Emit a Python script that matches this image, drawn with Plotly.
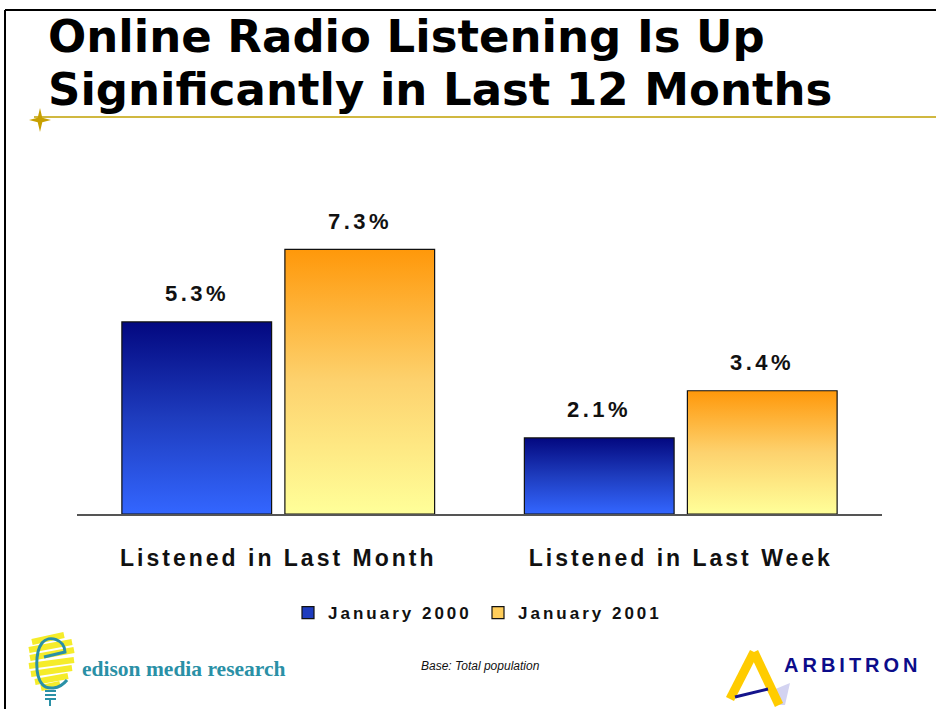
import plotly.graph_objects as go

# ---------------- data ----------------
categories = ["Listened in Last Month", "Listened in Last Week"]
series_names = ["January 2000", "January 2001"]
jan2000 = [5.3, 2.1]
jan2001 = [7.3, 3.4]
value_labels_2000 = ["5.3%", "2.1%"]
value_labels_2001 = ["7.3%", "3.4%"]

# ---------------- style ----------------
W, H = 936, 709
ML, MR, MT, MB = 77, 54, 224, 195
PW, PH = W - ML - MR, H - MT - MB
BAR_W = 0.372
OFF = 0.2025
BLUE_SCALE = [[0, "rgb(51,102,255)"], [0.5, "rgb(30,60,190)"], [1, "rgb(3,8,128)"]]
ORANGE_SCALE = [[0, "rgb(255,255,153)"], [0.5, "rgb(253,210,110)"], [1, "rgb(255,152,10)"]]
LABEL_FONT = "Liberation Sans, Arial, sans-serif"


def X(px):
    return (px - ML) / PW


def Y(py):
    return (MT + PH - py) / PH


def path(points, close=True):
    s = "M " + " L ".join(f"{X(a):.5f},{Y(b):.5f}" for a, b in points)
    return s + (" Z" if close else "")


fig = go.Figure()

series = [
    (series_names[0], jan2000, value_labels_2000, -OFF, BLUE_SCALE, "rgb(30,60,190)"),
    (series_names[1], jan2001, value_labels_2001, OFF, ORANGE_SCALE, "rgb(255,205,90)"),
]

annotations = []
for name, vals, labs, off, scale, mid in series:
    for i, v in enumerate(vals):
        c = i + off
        x0, x1 = c - BAR_W / 2, c + BAR_W / 2
        fig.add_trace(go.Scatter(
            x=[x0, x0, x1, x1, x0], y=[0, v, v, 0, 0],
            mode="lines", fill="toself",
            fillgradient=dict(type="vertical", colorscale=scale, start=0, stop=v),
            line=dict(color="#111111", width=1.2),
            showlegend=False, hoverinfo="skip", name=name,
        ))
        annotations.append(dict(
            x=c, y=v, xref="x", yref="y", text=labs[i], showarrow=False,
            yanchor="middle", yshift=28,
            font=dict(family=LABEL_FONT, size=22, color="#111111", weight="bold"),
        ))
    # legend entry
    fig.add_trace(go.Bar(
        x=[None], y=[None], name=name,
        marker=dict(color=mid, line=dict(color="#111111", width=1.2)),
        showlegend=True,
    ))

# title and footer texts
annotations += [
    dict(x=X(46), y=Y(37), xref="paper", yref="paper", xanchor="left", yanchor="middle",
         text="Online Radio Listening Is Up", showarrow=False,
         font=dict(family="DejaVu Sans", size=45, color="black", weight="bold")),
    dict(x=X(46), y=Y(89), xref="paper", yref="paper", xanchor="left", yanchor="middle",
         text="Significantly in Last 12 Months", showarrow=False,
         font=dict(family="DejaVu Sans", size=45, color="black", weight="bold")),
    dict(x=X(480), y=Y(666), xref="paper", yref="paper", xanchor="center", yanchor="middle",
         text="<i>Base: Total population</i>", showarrow=False,
         font=dict(family=LABEL_FONT, size=12, color="#111111")),
    dict(x=X(80), y=Y(669), xref="paper", yref="paper", xanchor="left", yanchor="middle",
         text="edison media research", showarrow=False,
         font=dict(family="Liberation Serif, Times New Roman, serif", size=21.5,
                   color="#2a90a6", weight="bold")),
    dict(x=X(853), y=Y(665), xref="paper", yref="paper", xanchor="center", yanchor="middle",
         text="ARBITRON", showarrow=False,
         font=dict(family=LABEL_FONT, size=20, color="#0c0c8a", weight="bold")),
]

shapes = [
    # slide border
    dict(type="line", xref="paper", yref="paper", x0=X(5), y0=Y(10), x1=X(5), y1=Y(720),
         line=dict(color="black", width=2)),
    dict(type="line", xref="paper", yref="paper", x0=X(5), y0=Y(10), x1=X(950), y1=Y(10),
         line=dict(color="black", width=2)),
    # gold rule under title
    dict(type="line", xref="paper", yref="paper", x0=X(34), y0=Y(117), x1=X(950), y1=Y(117),
         line=dict(color="#c0a000", width=1.5)),
    # star bullet
    dict(type="path", xref="paper", yref="paper",
         path=path([(40, 108), (42.3, 117.7), (51, 120), (42.3, 122.3), (40, 132),
                    (37.7, 122.3), (29, 120), (37.7, 117.7)]),
         fillcolor="#c8a000", line=dict(width=0)),
]
# edison bulb: yellow scribble strokes
for (a, b, c, d) in [(32, 642, 64, 635), (29, 650, 72, 642), (30, 658, 74, 650),
                     (29, 666, 74, 660), (31, 674, 72, 668), (35, 682, 68, 676),
                     (41, 688, 60, 684)]:
    shapes.append(dict(type="line", xref="paper", yref="paper", x0=X(a), y0=Y(b),
                       x1=X(c), y1=Y(d), line=dict(color="#f5ec2a", width=6)))
shapes.append(dict(
    type="path", xref="paper", yref="paper",
    path=(f"M {X(44):.5f},{Y(657):.5f} L {X(65):.5f},{Y(652):.5f} "
          f"C {X(65):.5f},{Y(640):.5f} {X(49):.5f},{Y(634):.5f} {X(42):.5f},{Y(643):.5f} "
          f"C {X(35):.5f},{Y(652):.5f} {X(35):.5f},{Y(676):.5f} {X(42):.5f},{Y(684):.5f} "
          f"C {X(47):.5f},{Y(690):.5f} {X(59):.5f},{Y(690):.5f} {X(67):.5f},{Y(680):.5f}"),
    line=dict(color="#2a90a6", width=3)))
for yy in (691, 695, 699):
    shapes.append(dict(type="line", xref="paper", yref="paper", x0=X(45), y0=Y(yy),
                       x1=X(56), y1=Y(yy), line=dict(color="#2a90a6", width=2)))
shapes.append(dict(type="line", xref="paper", yref="paper", x0=X(50), y0=Y(700),
                   x1=X(50), y1=Y(706), line=dict(color="#2a90a6", width=2)))
# arbitron mark
shapes += [
    dict(type="path", xref="paper", yref="paper",
         path=path([(773, 690), (790, 683), (785, 705), (775, 705)]),
         fillcolor="rgba(110,110,210,0.3)", line=dict(width=0)),
    dict(type="line", xref="paper", yref="paper", x0=X(730), y0=Y(699), x1=X(754), y1=Y(652),
         line=dict(color="#ffcc00", width=9)),
    dict(type="line", xref="paper", yref="paper", x0=X(754), y0=Y(652), x1=X(779), y1=Y(705),
         line=dict(color="#ffcc00", width=9)),
    dict(type="line", xref="paper", yref="paper", x0=X(735), y0=Y(697), x1=X(768), y1=Y(689),
         line=dict(color="#14148c", width=3)),
]

fig.update_layout(
    width=W, height=H, autosize=False,
    margin=dict(l=ML, r=MR, t=MT, b=MB),
    paper_bgcolor="white", plot_bgcolor="white",
    xaxis=dict(range=[-0.5, 1.5], tickvals=[0, 1], ticktext=categories,
               showgrid=False, zeroline=False, showline=True, linecolor="#555555",
               linewidth=2, ticks="", ticklabelstandoff=22, fixedrange=True,
               tickfont=dict(family=LABEL_FONT, size=23, color="#111111", weight="bold")),
    yaxis=dict(range=[0, 8], showgrid=False, zeroline=False, showline=False,
               showticklabels=False, ticks="", fixedrange=True),
    showlegend=True,
    legend=dict(orientation="h", x=X(478), y=Y(613), xanchor="center", yanchor="middle",
                entrywidth=145, entrywidthmode="pixels",
                font=dict(family=LABEL_FONT, size=17, color="#111111", weight="bold"),
                bgcolor="rgba(0,0,0,0)", traceorder="normal"),
    annotations=annotations,
    shapes=shapes,
)

post = """
document.body.style.margin = '0';
document.body.style.overflow = 'hidden';
var gd = document.getElementById('{plot_id}');
function ls(){
  gd.querySelectorAll('.xtick text').forEach(function(t){t.style.letterSpacing='3px';});
  gd.querySelectorAll('.legendtext').forEach(function(t){t.style.letterSpacing='3px';});
  gd.querySelectorAll('.annotation-text').forEach(function(t){
    var s = t.textContent;
    if (s.slice(-1) === '%') t.style.letterSpacing = '3.5px';
    if (s === 'ARBITRON') t.style.letterSpacing = '4px';
  });
}
ls();
gd.on('plotly_afterplot', ls);
"""

fig.write_html("out.html", post_script=post, config={"displayModeBar": False})
